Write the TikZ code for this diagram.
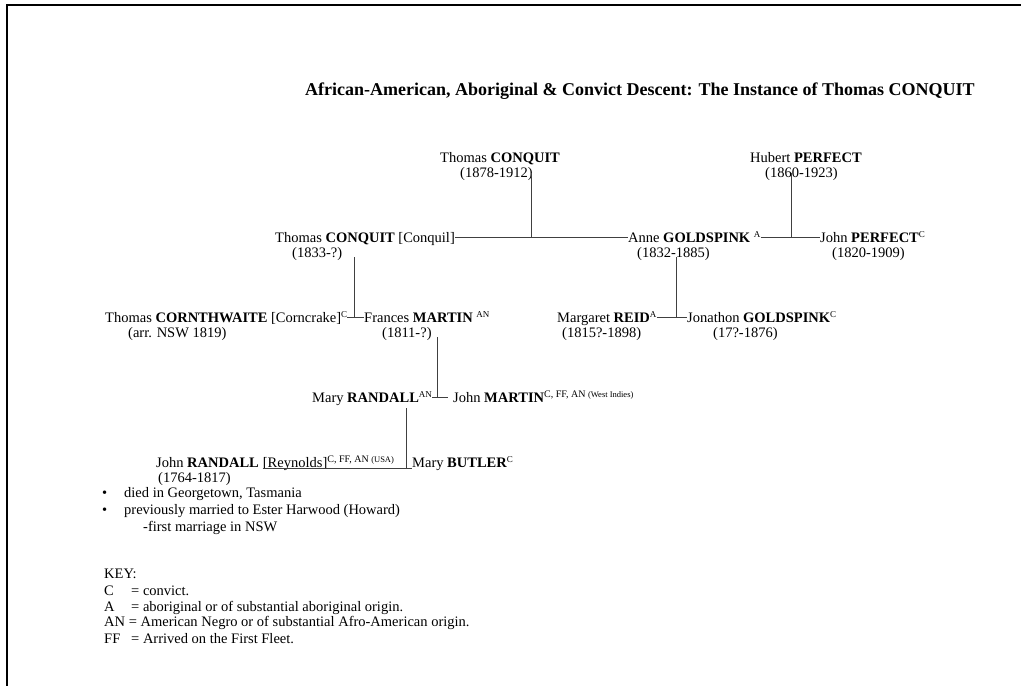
\documentclass[tikz,border=0pt]{standalone}
\usepackage{fontspec}
\setmainfont{Liberation Serif}
\newcommand\fs{\fontsize{14.5}{17}\selectfont}
\newcommand\spx[1]{\raisebox{5pt}{\fontsize{9}{10}\selectfont #1}}
\newcommand\spy[2]{\raisebox{5pt}{\fontsize{10}{11}\selectfont #1\fontsize{8.5}{9}\selectfont #2}}
\begin{document}
\begin{tikzpicture}[x=1pt,y=-1pt,
 txt/.style={anchor=base west,inner sep=0pt,font=\fs,text height=9pt,text depth=0pt},
 link/.style={draw=black!75,line width=0.9pt},
 frame/.style={line width=2pt}]
\useasboundingbox (0,0) rectangle (1021,686);
\draw[frame] (7,686) -- (7,5) -- (1021,5);
\node[anchor=base west,inner sep=0pt,font=\fontsize{18}{21}\selectfont\bfseries] (title) at (305,95) {African-American, Aboriginal \& Convict Descent: The Instance of Thomas CONQUIT};
% row 1
\node[txt] (tct) at (440,162) {Thomas \textbf{CONQUIT}};
\node[txt] (tctd) at (460,177) {(1878-1912)};
\node[txt] (hp) at (750,162) {Hubert \textbf{PERFECT}};
\node[txt] (hpd) at (765,177) {(1860-1923)};
% row 2
\node[txt] (tcc) at (275,242) {Thomas \textbf{CONQUIT} [Conquil]};
\node[txt] (tccd) at (292,257) {(1833-?)};
\node[txt] (ag) at (628,242) {Anne \textbf{GOLDSPINK} \spx{A}};
\node[txt] (agd) at (637,257) {(1832-1885)};
\node[txt] (jp) at (820,242) {John \textbf{PERFECT}\spx{C}};
\node[txt] (jpd) at (832,257) {(1820-1909)};
% row 3
\node[txt] (tcw) at (105,322) {Thomas \textbf{CORNTHWAITE} [Corncrake]\spx{C}};
\node[txt] (tcwd) at (128,337) {(arr. NSW 1819)};
\node[txt] (fm) at (364,322) {Frances \textbf{MARTIN} \spx{AN}};
\node[txt] (fmd) at (382,337) {(1811-?)};
\node[txt] (mr) at (557,322) {Margaret \textbf{REID}\spx{A}};
\node[txt] (mrd) at (562,337) {(1815?-1898)};
\node[txt] (jg) at (687,322) {Jonathon \textbf{GOLDSPINK}\spx{C}};
\node[txt] (jgd) at (713,337) {(17?-1876)};
% row 4
\node[txt] (mra) at (312,402) {Mary \textbf{RANDALL}\spx{AN}};
\node[txt] (jm) at (453,402) {John \textbf{MARTIN}\spy{C, FF, AN }{(West Indies)}};
% row 5
\node[txt] (jr) at (156,467) {John \textbf{RANDALL}};
\node[txt] (jrr) at ([xshift=3.6pt]jr.base east) {[Reynolds]\spy{C, FF, AN }{(USA)}};
\node[txt] (mb) at (412,467) {Mary \textbf{BUTLER}\spx{C}};
\node[txt] (jrd) at (158,482) {(1764-1817)};
\node[txt] (b1) at (102,497) {\textbullet};
\node[txt] (n1) at (124,497) {died in Georgetown, Tasmania};
\node[txt] (b2) at (102,514) {\textbullet};
\node[txt] (n2) at (124,514) {previously married to Ester Harwood (Howard)};
\node[txt] (n3) at (143,531) {-first marriage in NSW};
% key
\node[txt] (key) at (104,578) {KEY:};
\node[txt] (kc) at (104,595) {C};
\node[txt] (kce) at (131,595) {= convict.};
\node[txt] (ka) at (104,611) {A};
\node[txt] (kae) at (131,611) {= aboriginal or of substantial aboriginal origin.};
\node[txt] (kan) at (104,626) {AN = American Negro or of substantial Afro-American origin.};
\node[txt] (kff) at (104,643) {FF};
\node[txt] (kffe) at (131,643) {= Arrived on the First Fleet.};
% connectors
\coordinate (j1) at (531,237.5);
\coordinate (j2) at (791,237.5);
\coordinate (j3) at (354,317.5);
\coordinate (j4) at (437,397.5);
\coordinate (j5) at (406,468);
\coordinate (j6) at (676,317.5);
\draw[link] (tcc.east) -- (ag.west);
\draw[link] (j1 |- tctd.center) -- (j1);
\draw[link] (ag.east) -- (jp.west);
\draw[link] (j2 |- hpd.center) -- (j2);
\draw[link] (tcw.east) -- (fm.west);
\draw[link] (j3 |- tccd.south) -- (j3);
\draw[link] (mr.east) -- (jg.west);
\draw[link] (j6 |- agd.south) -- (j6);
\draw[link,shorten >=5pt] (mra.east) -- (jm.west);
\draw[link] (j4 |- fmd.south) -- (j4);
\draw[link] ([yshift=-1pt]jrr.south west) -- ([yshift=-1pt]mb.south west);
\draw[link,shorten <=6pt] (j5 |- mra.south) -- (j5);
\end{tikzpicture}
\end{document}
